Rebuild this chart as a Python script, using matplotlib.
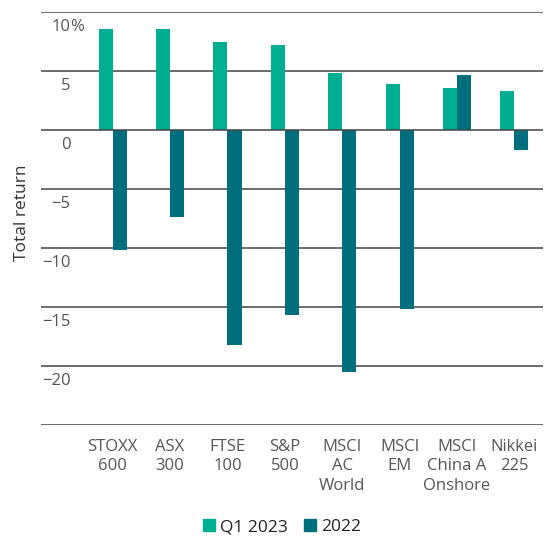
import numpy as np
import matplotlib
matplotlib.use('Agg')
from matplotlib import pyplot as plt
from matplotlib.patches import Patch

plt.rcParams['font.family'] = ['Open Sans', 'DejaVu Sans']

# index names, one line per row in the tick label
indices = ['STOXX\n600', 'ASX\n300', 'FTSE\n100', 'S&P\n500', 'MSCI\nAC\nWorld',
           'MSCI\nEM', 'MSCI\nChina A\nOnshore', 'Nikkei\n225']
q1_2023 = [8.6, 8.6, 7.5, 7.2, 4.8, 3.9, 3.6, 3.3]
y_2022 = [-10.2, -7.4, -18.2, -15.7, -20.5, -15.2, 4.7, -1.7]
y_ticks = [10, 5, 0, -5, -10, -15, -20]
y_tick_labels = ['10', '5', '0', '\u22125', '\u221210', '\u221215', '\u221220']

teal = '#00ae92'
dark_teal = '#006e7c'
text_grey = '#555555'

fig = plt.figure(figsize=(5.45, 5.4), dpi=100)
ax = fig.add_axes([41 / 545, 1 - 425 / 540, 502 / 545, 413 / 540])

x = np.arange(len(indices))
w = 0.245
ax.bar(x - w / 2, q1_2023, width=w, color=teal, zorder=2)
ax.bar(x + w / 2, y_2022, width=w, color=dark_teal, zorder=2)

ax.set_xlim(-1.25, 7.5)
ax.set_ylim(-25, 10)

# horizontal grid every 5 points
for g in range(-25, 11, 5):
    ax.axhline(g, color='#444444', lw=1.1, zorder=3 if g == 0 else 1)

for s in ax.spines.values():
    s.set_visible(False)

ax.set_yticks([])
ax.set_xticks(x)
ax.set_xticklabels(indices, fontsize=12, color=text_grey, linespacing=1.3)
ax.tick_params(axis='x', length=0, pad=10)

# y labels sit just under each grid line, inside the plot
tr = ax.get_yaxis_transform()
for val, lab in zip(y_ticks, y_tick_labels):
    ax.text(0.059, val - 1.25, lab, transform=tr, ha='right', va='center',
            fontsize=12, color=text_grey)
ax.text(0.059, 10 - 1.25, '%', transform=tr, ha='left', va='center',
        fontsize=12, color=text_grey)

fig.text(22 / 545, 1 - 213 / 540, 'Total return', rotation=90, ha='center',
         va='center', fontsize=12.5, color='#333333')

handles = [Patch(color=teal, label='Q1 2023'), Patch(color=dark_teal, label='2022')]
fig.legend(handles=handles, loc='center', bbox_to_anchor=(282 / 545, 1 - 527 / 540),
           ncol=2, frameon=False, fontsize=12.5, handlelength=0.7, handleheight=0.7,
           handletextpad=0.3, columnspacing=0.9, labelcolor='#222222')

fig.savefig('out.png', dpi=100)
